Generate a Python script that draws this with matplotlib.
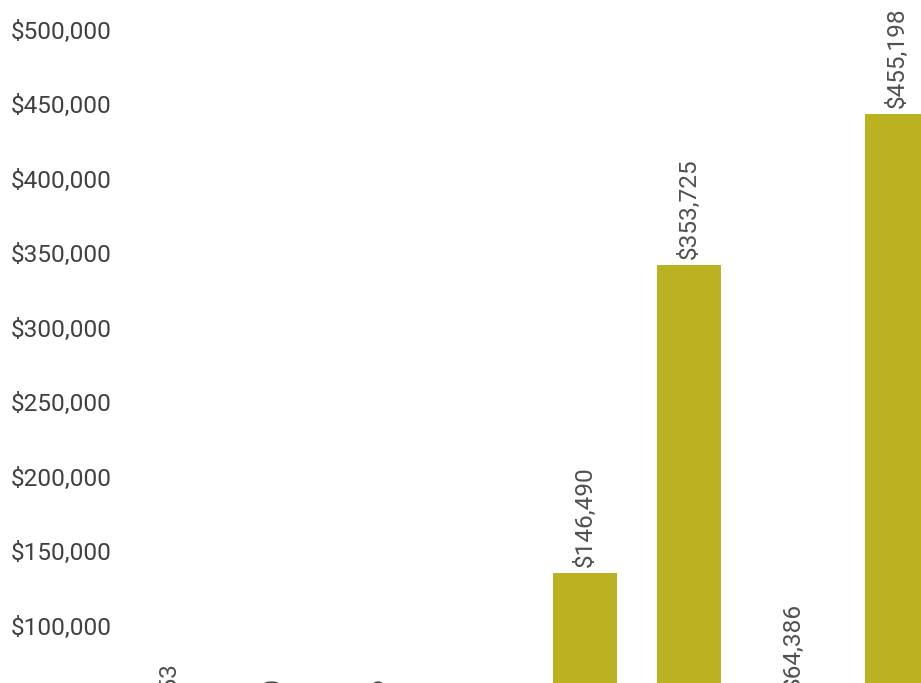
import matplotlib
matplotlib.use('Agg')
import matplotlib.pyplot as plt
import matplotlib.transforms as mtransforms

# values (first four are mostly hidden below the crop)
values = [24453, 14580, 14446, 5870, 146490, 353725, 64386, 455198]
bar_labels = ['$' + format(v, ',') for v in values]
yticks = [0, 50000, 100000, 150000, 200000, 250000, 300000, 350000, 400000, 450000, 500000]
ytick_labels = ['$' + format(v, ',') for v in yticks]

plt.rcParams['font.family'] = ['Roboto', 'DejaVu Sans']

W, H = 921, 683
fig = plt.figure(figsize=(W / 100, H / 100), dpi=100)
# the reference is a crop: the axes run past the bottom of the image
ax = fig.add_axes([117 / W, -108.4 / H, (W - 117) / W, 744.4 / H])
ax.set_xlim(-0.5, -0.5 + (W - 117) / 104)
ax.set_ylim(0, 500000)

x = list(range(len(values)))
ax.bar(x, values, width=0.615, color='#bbb221', zorder=2)

for xi, v, lab in zip(x, values, bar_labels):
    ax.annotate(lab, (xi, v), xytext=(0, 4.3), textcoords='offset points',
                rotation=90, ha='center', va='bottom', fontsize=17.6,
                color='#505050', annotation_clip=False)

ax.set_yticks(yticks)
ax.set_yticklabels(ytick_labels)
ax.tick_params(axis='y', length=0, pad=4, labelsize=17.6, labelcolor='#404040')
ax.set_xticks([])
offset = mtransforms.ScaledTranslation(0, 17 / 100, fig.dpi_scale_trans)
for lbl in ax.get_yticklabels():
    lbl.set_transform(lbl.get_transform() + offset)

for s in ax.spines.values():
    s.set_visible(False)

fig.savefig('out.png', dpi=100)
plt.close(fig)
